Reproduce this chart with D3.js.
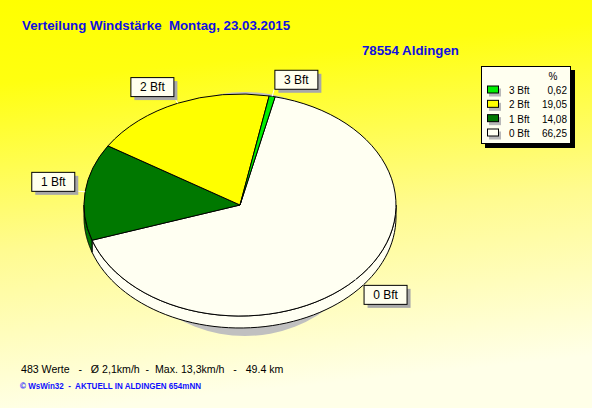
<!DOCTYPE html>
<html>
<head>
<meta charset="utf-8">
<script src="https://cdn.jsdelivr.net/npm/d3@7"></script>
<style>
  body { margin: 0; }
  text { font-family: Arial, "Liberation Sans", sans-serif; }
</style>
</head>
<body>
<svg width="592" height="408"></svg>
<script>
// data
const classes = ["0 Bft", "1 Bft", "2 Bft", "3 Bft"];
const percents = [66.25, 14.08, 19.05, 0.62];
const colors = ["#fffff2", "#007800", "#ffff00", "#00ee00"];
const legendOrder = ["3 Bft", "2 Bft", "1 Bft", "0 Bft"];
const legendValues = ["0,62", "19,05", "14,08", "66,25"];

const svg = d3.select("svg");
const W = 592, H = 408;

// background gradient yellow -> pale
const defs = svg.append("defs");
const grad = defs.append("linearGradient").attr("id", "bg")
  .attr("x1", 0).attr("y1", 0).attr("x2", 0.15).attr("y2", 1);
grad.append("stop").attr("offset", "0").attr("stop-color", "#ffff00");
grad.append("stop").attr("offset", "0.2").attr("stop-color", "#ffff10");
grad.append("stop").attr("offset", "0.6").attr("stop-color", "#fffb90");
grad.append("stop").attr("offset", "1").attr("stop-color", "#ffffe8");
svg.append("rect").attr("width", W).attr("height", H).attr("fill", "url(#bg)");

// titles
svg.append("text").attr("x", 22).attr("y", 30)
  .attr("font-size", 13.3).attr("font-weight", "bold").attr("fill", "#1010e0")
  .attr("xml:space", "preserve")
  .text("Verteilung Windstärke  Montag, 23.03.2015");
svg.append("text").attr("x", 459).attr("y", 55).attr("text-anchor", "end")
  .attr("font-size", 13.3).attr("font-weight", "bold").attr("fill", "#1010e0")
  .text("78554 Aldingen");

// pie geometry (ellipse)
const cx = 240, cy = 205, rx = 156, ry = 111, depth = 12;
const start = 13 * Math.PI / 180;

const pie = d3.pie().sort(null).value(d => d)
  .startAngle(start).endAngle(start + 2 * Math.PI);
const arcs = pie(percents);

// point on ellipse for angle a (0 = top, clockwise)
const px = (a, r = 1) => cx + Math.sin(a) * rx * r;
const py = (a, r = 1) => cy - Math.cos(a) * ry * r;

// shadow
svg.append("ellipse").attr("cx", cx + 5).attr("cy", cy + 9)
  .attr("rx", 130).attr("ry", 122).attr("fill", "#c0c0c0");

// side walls (front half only)
const line = d3.line();
arcs.forEach((d, i) => {
  let a0 = Math.max(d.startAngle, Math.PI / 2);
  let a1 = Math.min(d.endAngle, 3 * Math.PI / 2);
  if (a0 >= a1) {
    a0 = Math.max(d.startAngle - 2 * Math.PI, Math.PI / 2);
    a1 = Math.min(d.endAngle - 2 * Math.PI, 3 * Math.PI / 2);
  }
  if (a0 >= a1) return;
  const steps = d3.range(0, 61).map(k => a0 + (a1 - a0) * k / 60);
  const pts = steps.map(a => [px(a), py(a)])
    .concat(steps.slice().reverse().map(a => [px(a), py(a) + depth]));
  svg.append("path").attr("d", line(pts) + "Z")
    .attr("fill", colors[i]).attr("stroke", "#000").attr("stroke-width", 1);
});

// top face
const arc = d3.arc().innerRadius(0).outerRadius(rx);
svg.append("g")
  .attr("transform", `translate(${cx},${cy}) scale(1,${ry / rx})`)
  .selectAll("path").data(arcs).join("path")
  .attr("d", arc)
  .attr("fill", (d, i) => colors[i])
  .attr("stroke", "#000").attr("stroke-width", 1)
  .attr("vector-effect", "non-scaling-stroke");

// slice labels: box corner sits at the anchor point
const lab = svg.append("g");
arcs.forEach((d, i) => {
  const m = (d.startAngle + d.endAngle) / 2;
  const ax = px(m, 1.07), ay = py(m, 1.07);
  lab.append("line")
    .attr("x1", px(m, 1.0)).attr("y1", py(m, 1.0))
    .attr("x2", ax).attr("y2", ay)
    .attr("stroke", "#fff");
  const bw = 43, bh = 19;
  const left = Math.sin(m) >= 0 ? ax : ax - bw;
  const top = Math.cos(m) >= 0 ? ay - bh : ay;
  lab.append("rect").attr("x", left + 4).attr("y", top + 4)
    .attr("width", bw).attr("height", bh).attr("fill", "#a8a8a8");
  lab.append("rect").attr("x", left + 0.5).attr("y", top + 0.5)
    .attr("width", bw).attr("height", bh)
    .attr("fill", "#ffffee").attr("stroke", "#000");
  lab.append("text").attr("x", left + bw / 2 + 0.5).attr("y", top + 14)
    .attr("text-anchor", "middle").attr("font-size", 12).attr("fill", "#000")
    .text(classes[i]);
});

// legend
const lg = svg.append("g");
lg.append("rect").attr("x", 485).attr("y", 70).attr("width", 90).attr("height", 78)
  .attr("fill", "#000");
lg.append("rect").attr("x", 481.5).attr("y", 66.5).attr("width", 89).attr("height", 77)
  .attr("fill", "#fffff0").attr("stroke", "#000");
lg.append("text").attr("x", 553).attr("y", 80).attr("text-anchor", "middle")
  .attr("font-size", 10).text("%");
const rowY = d3.scalePoint().domain(legendOrder).range([90.5, 133.5]);
legendOrder.forEach((c, k) => {
  const y = rowY(c);
  const col = colors[classes.indexOf(c)];
  lg.append("rect").attr("x", 489).attr("y", y - 2).attr("width", 12).attr("height", 8)
    .attr("fill", "#b8b8b8");
  lg.append("rect").attr("x", 487.5).attr("y", y - 4.5).attr("width", 11).attr("height", 7)
    .attr("fill", col).attr("stroke", "#000");
  lg.append("text").attr("x", 509).attr("y", y + 3.5).attr("font-size", 10).text(c);
  lg.append("text").attr("x", 567).attr("y", y + 3.5).attr("text-anchor", "end")
    .attr("font-size", 10).text(legendValues[k]);
});

// footer
svg.append("text").attr("x", 21).attr("y", 373).attr("font-size", 10.6)
  .attr("xml:space", "preserve")
  .text("483 Werte   -   Ø 2,1km/h  -  Max. 13,3km/h   -   49.4 km");
svg.append("text").attr("x", 20).attr("y", 389).attr("font-size", 8.2)
  .attr("fill", "#1010ff").attr("font-weight", "bold").attr("xml:space", "preserve")
  .attr("textLength", 181).attr("lengthAdjust", "spacingAndGlyphs")
  .text("© WsWin32  -  AKTUELL IN ALDINGEN 654mNN");
</script>
</body>
</html>
